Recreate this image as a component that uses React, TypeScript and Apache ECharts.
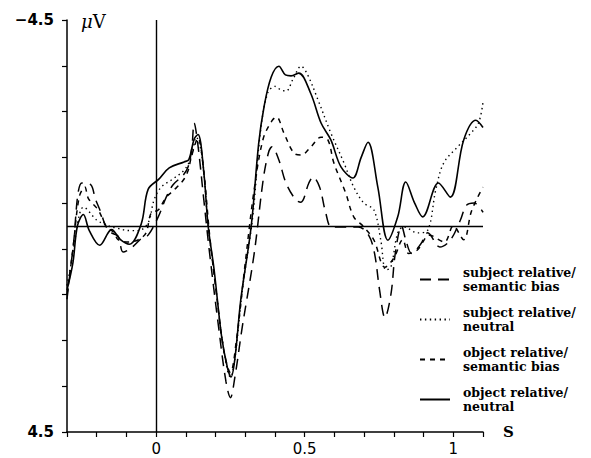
import React, { useEffect, useRef } from "react";
import * as echarts from "echarts";

// ---- data (time in s, amplitude in µV; negative plotted up) ----
const subjSemantic: [number, number][] = [
  [-0.3, 1.6], [-0.28, 0.5], [-0.25, -0.94], [-0.22, -0.9], [-0.205, -0.6], [-0.185, -0.28],
  [-0.17, 0.0], [-0.15, 0.15], [-0.128, 0.22], [-0.111, 0.57], [-0.084, 0.48], [-0.044, 0.24],
  [-0.027, 0.2], [0.007, -0.2], [0.034, -0.63], [0.057, -0.9], [0.091, -1.11], [0.108, -1.3],
  [0.12, -1.7], [0.128, -2.25], [0.14, -1.8], [0.16, -0.6], [0.18, 0.6], [0.21, 2.2],
  [0.235, 3.4], [0.25, 3.75], [0.265, 3.3], [0.29, 2.2], [0.33, 0.6], [0.36, -1.0],
  [0.378, -1.6], [0.39, -1.73], [0.413, -1.44], [0.437, -0.94], [0.47, -0.57], [0.487, -0.52],
  [0.514, -0.94], [0.528, -1.07], [0.55, -0.85], [0.571, -0.28], [0.59, 0.02], [0.63, 0.02],
  [0.68, 0.02], [0.715, 0.2], [0.735, 0.6], [0.752, 1.4], [0.77, 2.0], [0.79, 1.5],
  [0.805, 0.59], [0.826, 0.0], [0.84, 0.3], [0.86, 0.6], [0.89, 0.4], [0.914, 0.15],
  [0.955, 0.46], [0.99, 0.31], [1.024, -0.13], [1.044, -0.45], [1.07, -0.5], [1.1, -0.3],
];

const subjNeutral: [number, number][] = [
  [-0.3, 1.3], [-0.28, 0.6], [-0.26, -0.2], [-0.245, -0.41], [-0.2, -0.13], [-0.16, 0.0],
  [-0.13, 0.05], [-0.09, 0.1], [-0.06, 0.1], [-0.027, -0.07], [-0.007, -0.57], [0.017, -0.85],
  [0.05, -1.0], [0.094, -1.22], [0.118, -1.5], [0.135, -1.94], [0.155, -1.5], [0.175, 0.0],
  [0.2, 1.3], [0.225, 2.6], [0.25, 3.3], [0.265, 2.9], [0.29, 1.4], [0.325, -0.2],
  [0.35, -2.0], [0.375, -2.9], [0.4, -3.05], [0.42, -2.97], [0.438, -2.95], [0.46, -3.2],
  [0.488, -3.49], [0.51, -3.3], [0.545, -2.75], [0.588, -2.03], [0.632, -1.38], [0.665, -0.85],
  [0.699, -0.5], [0.733, -0.35], [0.756, 0.31], [0.773, 0.96], [0.79, 0.9], [0.813, 0.15],
  [0.833, 0.02], [0.88, 0.15], [0.914, 0.09], [0.941, -0.79], [0.968, -1.38], [1.015, -1.73],
  [1.059, -2.03], [1.085, -2.25], [1.1, -2.7],
];

const objSemantic: [number, number][] = [
  [-0.3, 1.5], [-0.28, 0.5], [-0.259, -0.63], [-0.24, -0.85], [-0.228, -0.6], [-0.195, -0.35],
  [-0.168, 0.0], [-0.141, 0.15], [-0.128, 0.3], [-0.094, 0.35], [-0.06, 0.3], [-0.034, 0.15],
  [-0.017, -0.28], [0.007, -0.35], [0.034, -0.63], [0.061, -0.79], [0.091, -1.0], [0.108, -1.22],
  [0.118, -1.5], [0.141, -1.92], [0.16, -1.2], [0.18, 0.2], [0.205, 1.6], [0.23, 2.8],
  [0.25, 3.2], [0.27, 2.5], [0.3, 0.8], [0.33, -0.8], [0.36, -1.9], [0.39, -2.3],
  [0.405, -2.38], [0.43, -2.03], [0.464, -1.59], [0.488, -1.55], [0.521, -1.73], [0.555, -1.94],
  [0.578, -1.88], [0.598, -1.38], [0.638, -0.72], [0.665, -0.2], [0.699, 0.02], [0.733, 0.31],
  [0.77, 0.9], [0.8, 0.7], [0.83, 0.3], [0.85, 0.6], [0.88, 0.52], [0.92, 0.2],
  [0.97, 0.35], [1.0, 0.0], [1.035, 0.3], [1.06, -0.3], [1.08, -0.6], [1.1, -0.85],
];

const objNeutral: [number, number][] = [
  [-0.3, 1.4], [-0.28, 0.8], [-0.265, 0.0], [-0.245, -0.25], [-0.225, 0.1], [-0.19, 0.42],
  [-0.15, 0.08], [-0.12, 0.3], [-0.09, 0.4], [-0.05, -0.05], [-0.027, -0.8], [0.01, -1.03],
  [0.044, -1.27], [0.094, -1.4], [0.11, -1.45], [0.128, -1.9], [0.141, -2.0], [0.16, -1.2],
  [0.175, 0.0], [0.195, 0.95], [0.22, 2.4], [0.24, 3.1], [0.252, 3.3], [0.265, 2.9],
  [0.285, 1.6], [0.32, 0.0], [0.345, -1.8], [0.363, -2.6], [0.387, -3.25], [0.413, -3.49],
  [0.435, -3.3], [0.454, -3.28], [0.48, -3.34], [0.52, -2.9], [0.555, -2.25], [0.588, -1.88],
  [0.622, -1.29], [0.662, -1.05], [0.69, -1.5], [0.713, -1.83], [0.746, -0.85], [0.78, 0.31],
  [0.813, -0.2], [0.84, -0.96], [0.87, -0.5], [0.897, -0.2], [0.95, -0.94], [0.99, -0.63],
  [1.035, -1.88], [1.076, -2.31], [1.1, -2.15],
];

const seriesNames = [
  "subject relative/\nsemantic bias",
  "subject relative/\nneutral",
  "object relative/\nsemantic bias",
  "object relative/\nneutral",
];

const xTickLabels = [0, 0.5, 1];
const yTickLabels = [-4.5, 4.5];

export default function App() {
  const ref = useRef<HTMLDivElement>(null);

  useEffect(() => {
    document.body.style.margin = "0";
    if (!ref.current) return;
    const chart = echarts.init(ref.current, undefined, { renderer: "svg" });

    const base = {
      type: "line" as const,
      symbol: "none",
      showSymbol: false,
      smooth: 0.35,
      silent: true,
      itemStyle: { color: "#000" },
    };

    chart.setOption({
      animation: false,
      backgroundColor: "#fff",
      grid: { left: 67, right: 108, top: 20, bottom: 26 },
      xAxis: {
        type: "value",
        min: -0.3,
        max: 1.1,
        interval: 0.1,
        name: "S",
        nameLocation: "end",
        nameGap: 20,
        nameTextStyle: {
          fontFamily: "DejaVu Serif",
          fontWeight: "bold",
          fontSize: 15,
          color: "#000",
          verticalAlign: "middle",
        },
        axisLine: { onZero: false, lineStyle: { color: "#000", width: 1.5 } },
        axisTick: { length: 5, lineStyle: { color: "#000", width: 1.2 } },
        splitLine: { show: false },
        axisLabel: {
          margin: 9,
          fontFamily: "DejaVu Sans",
          fontSize: 15,
          color: "#000",
          formatter: (v: number) => {
            const r = Math.round(v * 10) / 10;
            return xTickLabels.some((t) => Math.abs(t - r) < 1e-6) ? String(r) : "";
          },
        },
      },
      yAxis: {
        type: "value",
        inverse: true,
        min: -4.5,
        max: 4.5,
        interval: 1,
        axisLine: { onZero: false, lineStyle: { color: "#000", width: 1.5 } },
        axisTick: { length: 5, lineStyle: { color: "#000", width: 1.2 } },
        splitLine: { show: false },
        axisLabel: {
          margin: 13,
          fontFamily: "DejaVu Sans",
          fontWeight: "bold",
          fontSize: 15,
          color: "#000",
          formatter: (v: number) => {
            const r = Math.round(v * 10) / 10;
            if (!yTickLabels.some((t) => Math.abs(t - r) < 1e-6)) return "";
            return r < 0 ? "\u2212" + String(Math.abs(r)) : String(r);
          },
        },
      },
      legend: {
        orient: "vertical",
        left: 414,
        top: 261,
        itemWidth: 30,
        itemHeight: 10,
        itemGap: 13,
        selectedMode: false,
        data: seriesNames,
        itemStyle: { opacity: 0 },
        textStyle: {
          fontFamily: "DejaVu Serif",
          fontWeight: "bold",
          fontSize: 12.5,
          lineHeight: 13.5,
          color: "#000",
          padding: [0, 0, 0, 8],
        },
      },
      graphic: [
        {
          type: "text",
          left: 81,
          top: 12,
          style: {
            text: "{a|\u03bc}V",
            fontFamily: "DejaVu Serif",
            fontSize: 18,
            fill: "#000",
            rich: { a: { fontStyle: "italic", fontFamily: "DejaVu Serif", fontSize: 18 } },
          },
        },
      ],
      series: [
        {
          ...base,
          name: seriesNames[0],
          data: subjSemantic,
          lineStyle: { color: "#000", width: 1.5, type: [11, 7] },
        },
        {
          ...base,
          name: seriesNames[1],
          data: subjNeutral,
          lineStyle: { color: "#000", width: 1.4, type: [1.4, 3.5] },
        },
        {
          ...base,
          name: seriesNames[2],
          data: objSemantic,
          lineStyle: { color: "#000", width: 1.5, type: [5, 5] },
        },
        {
          ...base,
          name: seriesNames[3],
          data: objNeutral,
          lineStyle: { color: "#000", width: 1.6, type: "solid" },
          markLine: {
            silent: true,
            symbol: ["none", "none"],
            label: { show: false },
            lineStyle: { color: "#000", width: 1.4, type: "solid" },
            data: [{ xAxis: 0 }, { yAxis: 0 }],
          },
        },
      ],
    });

    return () => chart.dispose();
  }, []);

  return <div ref={ref} style={{ width: 591, height: 458 }} />;
}
